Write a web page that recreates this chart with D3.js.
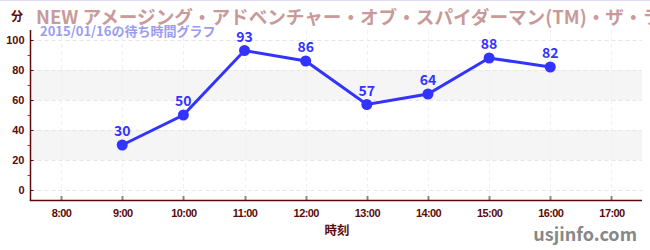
<!DOCTYPE html>
<html>
<head>
<meta charset="utf-8">
<script src="https://cdn.jsdelivr.net/npm/d3@7"></script>
<style>
  body { margin: 0; background: #fff; }
  svg { display: block; font-family: "Noto Sans CJK JP", "Noto Sans", sans-serif; }
</style>
</head>
<body>
<div id="chart"></div>
<script>
// waiting times (minutes) by hour
var hours = [9, 10, 11, 12, 13, 14, 15, 16];
var waits = [30, 50, 93, 86, 57, 64, 88, 82];
var xTicks = [8, 9, 10, 11, 12, 13, 14, 15, 16, 17];
var yTicks = [0, 20, 40, 60, 80, 100];
var yMinor = [10, 30, 50, 70, 90];
var bands = [[20, 40], [60, 80]];

var title = "NEW アメージング・アドベンチャー・オブ・スパイダーマン(TM)・ザ・ライド 4K3D";
var subtitle = "2015/01/16の待ち時間グラフ";

var W = 650, H = 250;
var axisColor = "#5c0a0a";

var svg = d3.select("#chart").append("svg")
    .attr("width", W).attr("height", H);

var x = d3.scaleLinear().domain([7.5, 17.5]).range([30.5, 642]);
var y = d3.scaleLinear().domain([0, 100]).range([190, 40]);

// top border line
svg.append("line")
    .attr("x1", 0).attr("x2", W).attr("y1", 0.5).attr("y2", 0.5)
    .attr("stroke", "#dcdcf4").attr("stroke-width", 1);

// shaded bands
svg.selectAll("rect.band").data(bands).enter().append("rect")
    .attr("class", "band")
    .attr("x", x(7.5)).attr("width", x(17.5) - x(7.5))
    .attr("y", function(d){ return y(d[1]); })
    .attr("height", function(d){ return y(d[0]) - y(d[1]); })
    .attr("fill", "#f5f5f5");

// grid
svg.selectAll("line.hgrid").data(yTicks).enter().append("line")
    .attr("x1", x(7.5)).attr("x2", x(17.5))
    .attr("y1", function(d){ return y(d) + 0.5; })
    .attr("y2", function(d){ return y(d) + 0.5; })
    .attr("stroke", "#e6e6e6").attr("stroke-dasharray", "4,3");

svg.selectAll("line.vgrid").data(xTicks).enter().append("line")
    .attr("x1", function(d){ return Math.round(x(d)) + 0.5; })
    .attr("x2", function(d){ return Math.round(x(d)) + 0.5; })
    .attr("y1", 30).attr("y2", 200)
    .attr("stroke", "#f0f0f0").attr("stroke-dasharray", "4,3");

// y axis
var yAxis = svg.append("g")
    .attr("transform", "translate(" + x(7.5) + ",0)")
    .call(d3.axisLeft(y).tickValues(yTicks).tickSize(4).tickSizeOuter(0));
yAxis.select(".domain").remove();
yAxis.selectAll(".tick line").attr("stroke", axisColor).attr("x2", 3);
yAxis.selectAll(".tick text")
    .attr("x", -6)
    .attr("fill", axisColor)
    .style("font-size", "11px")
    .style("font-weight", "bold");

svg.selectAll("line.minor").data(yMinor).enter().append("line")
    .attr("x1", x(7.5) - 3).attr("x2", x(7.5))
    .attr("y1", function(d){ return y(d) + 0.5; })
    .attr("y2", function(d){ return y(d) + 0.5; })
    .attr("stroke", "#d22");

svg.append("line")
    .attr("x1", x(7.5)).attr("x2", x(7.5)).attr("y1", 30).attr("y2", 200.5)
    .attr("stroke", axisColor).attr("stroke-width", 1.5);

// x axis
var xAxis = svg.append("g")
    .attr("transform", "translate(0,200)")
    .call(d3.axisBottom(x).tickValues(xTicks)
        .tickFormat(function(d){ return d + ":00"; })
        .tickSize(0).tickPadding(9));
xAxis.select(".domain").remove();
xAxis.selectAll(".tick text")
    .attr("fill", axisColor)
    .style("font-size", "11px")
    .style("font-weight", "bold")
    .style("letter-spacing", "-0.6px");

svg.selectAll("line.xtick").data(xTicks).enter().append("line")
    .attr("x1", function(d){ return Math.round(x(d)) + 0.5; })
    .attr("x2", function(d){ return Math.round(x(d)) + 0.5; })
    .attr("y1", 196).attr("y2", 200)
    .attr("stroke", "#888").attr("stroke-width", 2);

svg.append("line")
    .attr("x1", x(7.5) - 0.75).attr("x2", x(17.5)).attr("y1", 200.5).attr("y2", 200.5)
    .attr("stroke", axisColor).attr("stroke-width", 1.5);

// series line
var pts = hours.map(function(h, i){ return [h, waits[i]]; });
svg.append("path")
    .datum(pts)
    .attr("fill", "none")
    .attr("stroke", "#3333ff")
    .attr("stroke-width", 3)
    .attr("d", d3.line().x(function(d){ return x(d[0]); }).y(function(d){ return y(d[1]); }));

svg.selectAll("circle.pt").data(pts).enter().append("circle")
    .attr("cx", function(d){ return x(d[0]); })
    .attr("cy", function(d){ return y(d[1]); })
    .attr("r", 5.5)
    .attr("fill", "#3333ff");

svg.selectAll("text.val").data(pts).enter().append("text")
    .attr("x", function(d){ return x(d[0]); })
    .attr("y", function(d){ return y(d[1]) - 9; })
    .attr("text-anchor", "middle")
    .attr("fill", "#3333ff")
    .style("font-size", "14px")
    .style("font-weight", "bold")
    .text(function(d){ return d[1]; });

// titles and labels
svg.append("text")
    .attr("x", 36).attr("y", 24)
    .attr("fill", "#c89a9a")
    .style("font-size", "18.6px")
    .style("font-weight", "bold")
    .text(title);

svg.append("text")
    .attr("x", 40).attr("y", 36)
    .attr("fill", "#9b9cf0")
    .style("font-size", "13px")
    .style("font-weight", "bold")
    .text(subtitle);

svg.append("text")
    .attr("x", 11).attr("y", 21)
    .attr("fill", axisColor)
    .style("font-size", "12px")
    .style("font-weight", "bold")
    .text("分");

svg.append("text")
    .attr("x", 337).attr("y", 235)
    .attr("text-anchor", "middle")
    .attr("fill", axisColor)
    .style("font-size", "12.5px")
    .style("font-weight", "bold")
    .text("時刻");

svg.append("text")
    .attr("x", 637).attr("y", 241)
    .attr("text-anchor", "end")
    .attr("fill", "#888")
    .style("font-size", "18px")
    .style("font-weight", "bold")
    .text("usjinfo.com");
</script>
</body>
</html>
